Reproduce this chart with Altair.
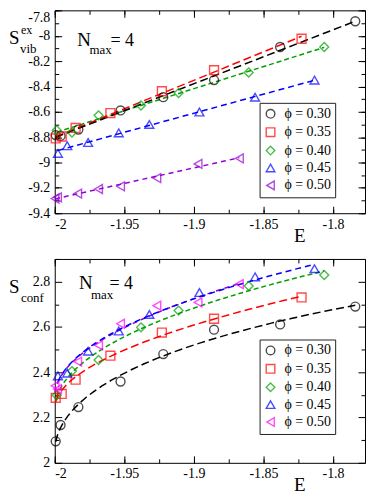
import altair as alt
import pandas as pd

labels = ["ϕ = 0.30", "ϕ = 0.35", "ϕ = 0.40", "ϕ = 0.45", "ϕ = 0.50"]

# energies (shared by both panels)
E_030 = [-1.9993, -1.9958, -1.983, -1.9527, -1.922, -1.8855, -1.838, -1.784]
E_035 = [-1.9993, -1.995, -1.985, -1.960, -1.923, -1.8855, -1.8226]
E_040 = [-1.9986, -1.9876, -1.9685, -1.938, -1.911, -1.8606, -1.8063]
E_045 = [-1.9977, -1.991, -1.976, -1.954, -1.932, -1.896, -1.856, -1.8133]
E_050 = [-1.9998, -1.998, -1.9835, -1.9685, -1.9527, -1.9266, -1.897, -1.8673]

# top panel: S_vib^ex
Sv_030 = [-8.784, -8.79, -8.74, -8.589, -8.485, -8.35, -8.089, -7.886]
Sv_035 = [-8.81, -8.795, -8.727, -8.61, -8.438, -8.272, -8.024]
Sv_040 = [-8.745, -8.764, -8.628, -8.55, -8.452, -8.29, -8.089]
Sv_045 = [-8.928, -8.868, -8.842, -8.766, -8.70, -8.602, -8.485, -8.35]
Sv_050 = [-9.284, -9.275, -9.245, -9.209, -9.188, -9.123, -9.011, -8.967]

# bottom panel: S_conf
Sc_030 = [2.095, 2.167, 2.246, 2.359, 2.48, 2.588, 2.611, 2.69]
Sc_035 = [2.287, 2.304, 2.367, 2.473, 2.575, 2.636, 2.73]
Sc_040 = [2.298, 2.405, 2.454, 2.598, 2.672, 2.781, 2.829]
Sc_045 = [2.384, 2.396, 2.493, 2.582, 2.655, 2.752, 2.821, 2.857]
Sc_050 = [2.34, 2.325, 2.447, 2.519, 2.614, 2.694, 2.708, 2.789]

x_domain = [-2.0, -1.777]
x_major = [-2.0, -1.95, -1.9, -1.85, -1.8]
x_minor = [-2.0, -1.975, -1.95, -1.925, -1.9, -1.875, -1.85, -1.825, -1.8]

yv_domain = [-9.4, -7.8]
yv_major = [-9.4, -9.2, -9.0, -8.8, -8.6, -8.4, -8.2, -8.0, -7.8]
yv_minor = [-9.4, -9.3, -9.2, -9.1, -9.0, -8.9, -8.8, -8.7, -8.6, -8.5, -8.4,
            -8.3, -8.2, -8.1, -8.0, -7.9, -7.8]

yc_domain = [2.0, 2.9]
yc_major = [2.0, 2.2, 2.4, 2.6, 2.8]
yc_minor = [2.1, 2.3, 2.5, 2.7, 2.9]

shapes = ["circle", "square", "diamond", "triangle-up", "triangle-left"]
colors_top = ["#000000", "#ff0000", "#00a000", "#0000ff", "#9400d3"]
colors_bot = ["#000000", "#ff0000", "#00a000", "#0000ff", "#ff00ff"]
lines_bot = ["#000000", "#ff0000", "#00a000", "#0000ff", "#9400d3"]
dashes = [[8, 4], [8, 4], [5, 3], [6, 4], [5, 4]]
fit_keys = ["fit " + l for l in labels]

FONT = "Liberation Serif"
W = 312


def frame(Es, Ss):
    rows = []
    for lab, ee, ss in zip(labels, Es, Ss):
        for e, s in zip(ee, ss):
            rows.append({"phi": lab, "E": e, "S": s})
    return pd.DataFrame(rows)


df_top = frame([E_030, E_035, E_040, E_045, E_050],
               [Sv_030, Sv_035, Sv_040, Sv_045, Sv_050])
df_bot = frame([E_030, E_035, E_040, E_045, E_050],
               [Sc_030, Sc_035, Sc_040, Sc_045, Sc_050])


def txt(s, x, y, size, align="left"):
    return alt.Chart(alt.Data(values=[{}])).mark_text(
        text=s, font=FONT, fontSize=size, color="black", align=align,
        baseline="alphabetic").encode(x=alt.value(x), y=alt.value(y))


def panel(df, ydom, ymaj, ymin, colors, linecolors, fit, height, texts, legy,
          top_flush):
    xs = alt.Scale(domain=x_domain, nice=False, zero=False)
    ys = alt.Scale(domain=ydom, nice=False, zero=False)
    lab_base = "middle"
    if top_flush:
        lab_base = {"condition": {"test": "datum.value > -7.85", "value": "top"},
                    "value": "middle"}
    x_ax = alt.Axis(values=x_major, orient="bottom", offset=-7, tickSize=7,
                    domain=False, grid=False, labelPadding=4, labelFont=FONT,
                    labelFontSize=14, labelColor="black", tickColor="black",
                    labelExpr="toString(datum.value)", title="E",
                    titleFont=FONT, titleFontSize=19, titleFontWeight="normal",
                    titleColor="black", titleX=W - 66, titleY=35,
                    titleAlign="center", titleBaseline="alphabetic")
    y_ax = alt.Axis(values=ymaj, orient="left", offset=-7, tickSize=7,
                    domain=False, grid=False, labelPadding=5, labelFont=FONT,
                    labelFontSize=14, labelColor="black", tickColor="black",
                    labelExpr="toString(datum.value)", title=None,
                    labelBaseline=lab_base)

    def extra(xv, xo, xt, yv, yo, yt):
        return alt.Chart(df).mark_point(opacity=0).encode(
            x=alt.X("E:Q", scale=xs,
                    axis=alt.Axis(values=xv, orient=xo, offset=-xt, tickSize=xt,
                                  labels=False, domain=False, grid=False,
                                  tickColor="black", title=None)),
            y=alt.Y("S:Q", scale=ys,
                    axis=alt.Axis(values=yv, orient=yo, offset=-yt, tickSize=yt,
                                  labels=False, domain=False, grid=False,
                                  tickColor="black", title=None)))

    # reversed order so that phi = 0.30 ... 0.45 fits are drawn above 0.50
    base_line = alt.Chart(df.iloc[::-1].reset_index(drop=True))
    if fit == "linear":
        base_line = base_line.transform_regression("E", "S", groupby=["phi"],
                                                   method="linear")
    else:
        base_line = (base_line
                     .transform_calculate(sx="sqrt(max(datum.E + 2, 0))")
                     .transform_regression("sx", "S", groupby=["phi"],
                                           method="quad")
                     .transform_calculate(E="datum.sx * datum.sx - 2"))
    base_line = base_line.transform_calculate(g="'fit ' + datum.phi")
    line = base_line.mark_line(strokeWidth=1.5).encode(
        x=alt.X("E:Q", scale=xs, axis=x_ax),
        y=alt.Y("S:Q", scale=ys, axis=y_ax),
        stroke=alt.Stroke("g:N", scale=alt.Scale(domain=fit_keys,
                                                 range=linecolors),
                          legend=None),
        strokeDash=alt.StrokeDash("g:N", scale=alt.Scale(domain=fit_keys,
                                                         range=dashes),
                                  legend=None),
        detail="g:N",
    )
    leg = alt.Legend(orient="none", legendX=W - 106, legendY=legy, title=None,
                     strokeColor="#222", fillColor="white", padding=4,
                     labelFont=FONT, labelFontSize=14, labelColor="black",
                     symbolSize=75, symbolStrokeWidth=1.4, rowPadding=2.5,
                     labelOffset=7, cornerRadius=0)
    pts = alt.Chart(df).mark_point(filled=False, size=80,
                                   strokeWidth=1.4).encode(
        x=alt.X("E:Q", scale=xs, axis=x_ax),
        y=alt.Y("S:Q", scale=ys, axis=y_ax),
        color=alt.Color("phi:N", scale=alt.Scale(domain=labels, range=colors),
                        legend=leg),
        shape=alt.Shape("phi:N", scale=alt.Scale(domain=labels, range=shapes),
                        legend=leg),
    )
    inner = alt.layer(line, pts, *texts)
    return alt.layer(
        inner,
        extra(x_minor, "bottom", 4, ymin, "left", 4),
        extra(x_major, "top", 7, ymaj, "right", 7),
        extra(x_minor, "top", 4, ymin, "right", 4),
    ).resolve_axis(x="independent", y="independent").properties(
        width=W, height=height)


texts_top = [
    txt("S", -46, 34, 19),
    txt("ex", -34, 24, 12),
    txt("vib", -35, 43, 13),
    txt("N", 22.7, 35.5, 19),
    txt("max", 35, 43.5, 13),
    txt("= 4", 56, 35.5, 18),
]
texts_bot = [
    txt("S", -46, 34.7, 19),
    txt("conf", -34, 43, 13),
    txt("N", 24.3, 30.3, 19),
    txt("max", 36.5, 40.5, 13),
    txt("= 4", 55, 30.3, 18),
]

top = panel(df_top, yv_domain, yv_major, yv_minor, colors_top, colors_top,
            "linear", 204, texts_top, 93, True)
bot = panel(df_bot, yc_domain, yc_major, yc_minor, colors_bot, lines_bot,
            "sqrt", 205, texts_bot, 81, False)

chart = alt.vconcat(top, bot, spacing=12).resolve_scale(
    color="independent", shape="independent", stroke="independent",
    strokeDash="independent").configure_view(
    stroke="black", strokeWidth=1).properties(padding=0)

chart.save("out.html", embed_options={"renderer": "svg", "actions": False})
